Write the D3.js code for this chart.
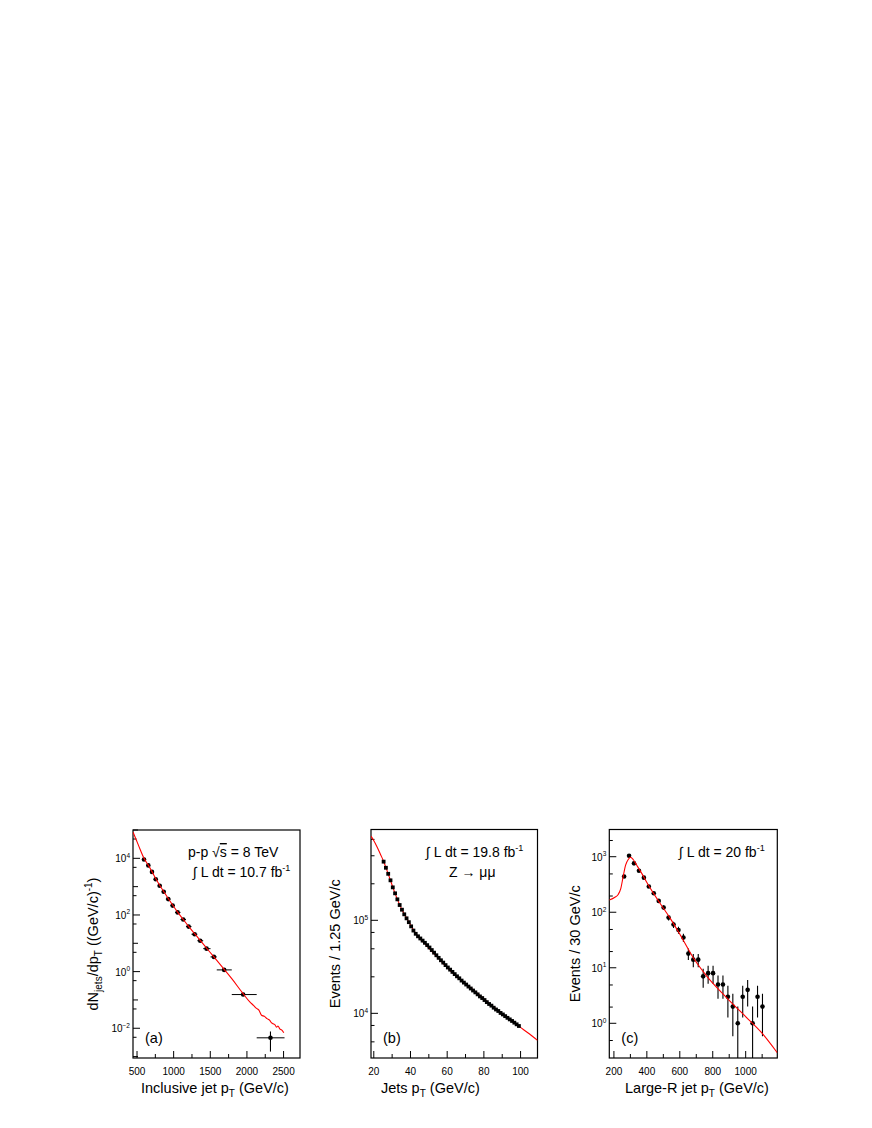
<!DOCTYPE html>
<html>
<head>
<meta charset="utf-8">
<script src="https://cdn.jsdelivr.net/npm/d3@7"></script>
<style>
body { margin: 0; background: #fff; }
svg { font-family: "Liberation Sans", Arial, Helvetica, sans-serif; }
</style>
</head>
<body>
<script>
"use strict";

/*
 * Three jet spectra: (a) inclusive jets, (b) jets in Z->mumu, (c) large-R jets.
 */

// (a) inclusive jet pT, GeV/c
const jetPt = [602, 661, 711, 762, 816, 871, 933, 993, 1061, 1138, 1211, 1293, 1369, 1456, 1556, 1696, 1955, 2328];
const jetEdges = [575, 630, 685, 735, 790, 845, 900, 965, 1025, 1100, 1175, 1250, 1330, 1410, 1510, 1595, 1800, 2140, 2520];
const jetRate = [9120, 5620, 3310, 1820, 1070, 661, 363, 214, 123, 69.2, 38.9, 20.9, 12.3, 6.46, 3.31, 1.15, 0.155, 0.0046];
const jetRateErr = [0, 0, 0, 0, 0, 0, 0, 0, 0, 0, 0, 0, 0, 0, 0, 0.08, 0.02, 0.0031];
const jetCurvePt = [452, 500, 550, 602, 661, 711, 762, 816, 871, 933, 993, 1061, 1138, 1211, 1293, 1369, 1456, 1556, 1696, 1800, 1955, 2046, 2100, 2138, 2170, 2206, 2247, 2280, 2319, 2340, 2364, 2390, 2410, 2430, 2455, 2480, 2510];
const jetCurveRate = [85100, 42700, 20400, 10000, 5750, 3390, 1950, 1120, 676, 380, 224, 126, 69.2, 39.8, 21.9, 12.6, 6.76, 3.31, 1.20, 0.562, 0.166, 0.0851, 0.0631, 0.0501, 0.0437, 0.0288, 0.0263, 0.0219, 0.0191, 0.0158, 0.0145, 0.0132, 0.0110, 0.0120, 0.00955, 0.00871, 0.00692];

// (b) jets in Z -> mumu events, 1.25 GeV/c bins starting at 25 GeV/c
const zBinStart = 25;
const zBinWidth = 1.25;
const zEvents = [427000, 367000, 316000, 269000, 226000, 195000, 168000, 146000, 130000, 116000,
                 105000, 95500, 86100, 77600, 71600, 67300, 63800, 60500, 57300, 54100,
                 51000, 47900, 44900, 42100, 39500, 37200, 35100, 33000, 31100, 29500,
                 27900, 26400, 25000, 23800, 22500, 21400, 20400, 19400, 18500, 17600,
                 16800, 16000, 15200, 14600, 13900, 13200, 12600, 12100, 11500, 11000,
                 10600, 10100, 9730, 9330, 8950, 8610, 8280, 7940, 7620, 7310];
const zCurvePt = [18.75, 20, 22, 24, 25.6, 28, 30, 32, 34, 36, 38, 40, 42, 44, 48, 52, 56, 60, 65, 70, 75, 80, 85, 90, 95, 100, 105, 109.5];
const zCurveEvents = [803000, 733000, 617000, 507000, 432000, 320000, 247000, 191000, 153000, 126000, 107000, 91200, 78200, 68400, 56000, 46100, 38200, 31300, 25200, 21000, 17500, 14500, 12000, 9950, 8410, 7110, 6030, 5130];

// (c) large-R jet pT, 30 GeV/c bins
const largeRPt = [265, 295, 325, 355, 385, 415, 445, 475, 505, 535, 565, 595, 625, 655, 685, 715, 745, 775, 805, 835, 865, 895, 925, 955, 985, 1015, 1045, 1075, 1105];
const largeREvents = [440, 1040, 760, 560, 420, 290, 220, 160, 122, 80, 60, 48, 35, 18, 14, 14, 7, 8, 8, 5, 5, 3, 2, 1, 3, 4, 1, 3, 2];
const largeRCurvePt = [175, 209, 229, 245, 259, 274, 290, 304, 320, 341, 372, 412, 483, 545, 606, 687, 769, 891, 1013, 1094, 1195];
const largeRCurveEvents = [166, 186, 209, 269, 437, 708, 891, 977, 891, 708, 501, 309, 145, 77.6, 38.9, 14.8, 6.92, 2.82, 1.23, 0.708, 0.295];

const svg = d3.select("body").append("svg")
    .attr("width", 872)
    .attr("height", 1128);

function superscript(text, base, exp, size) {
  text.append("tspan").text(base);
  text.append("tspan")
    .attr("dy", -size * 0.45)
    .attr("font-size", size * 0.65)
    .text(exp);
}

function drawPanel(p) {
  let g = svg.append("g");
  let x = d3.scaleLinear().domain(p.xDomain).range([p.left, p.right]);
  let y = d3.scaleLog().domain(p.yDomain).range([p.bottom, p.top]);

  let clipId = "clip" + p.name;
  g.append("clipPath").attr("id", clipId)
    .append("rect")
    .attr("x", p.left).attr("y", p.top)
    .attr("width", p.right - p.left).attr("height", p.bottom - p.top);

  // x ticks, pointing inside the frame
  let xAxis = d3.axisBottom(x).tickValues(p.xMajor).tickSize(-7).tickPadding(10)
      .tickFormat(d3.format("d"));
  let xg = g.append("g").attr("transform", `translate(0,${p.bottom})`).call(xAxis);
  xg.select(".domain").remove();
  xg.selectAll("text").attr("font-size", 10).attr("font-family", null).attr("fill", "#000");
  g.append("g").attr("transform", `translate(0,${p.bottom})`)
    .call(d3.axisBottom(x).tickValues(p.xMinor).tickSize(-4).tickFormat(""))
    .select(".domain").remove();

  // y ticks
  let yMinor = [];
  for (let e = p.decades[0] - 1; e <= p.decades[1] + 1; e++) {
    for (let m of p.yMinorMantissa) {
      let v = m * Math.pow(10, e);
      if (v >= p.yDomain[0] && v <= p.yDomain[1]) yMinor.push(v);
    }
  }
  g.append("g").attr("transform", `translate(${p.left},0)`)
    .call(d3.axisLeft(y).tickValues(yMinor).tickSize(-3.5).tickFormat(""))
    .select(".domain").remove();
  let yMajor = [];
  for (let e = p.decades[0]; e <= p.decades[1]; e++) {
    let v = Math.pow(10, e);
    if (v >= p.yDomain[0] && v <= p.yDomain[1]) yMajor.push(e);
  }
  let yg = g.append("g");
  for (let e of yMajor) {
    let labelled = p.labelEvery === 1 || e % 2 === 0;
    let py = y(Math.pow(10, e));
    yg.append("line")
      .attr("x1", p.left).attr("x2", p.left + (labelled ? 7 : 5))
      .attr("y1", py).attr("y2", py)
      .attr("stroke", "#000");
    if (labelled) {
      let t = yg.append("text")
        .attr("x", p.left - 3)
        .attr("y", py + 4)
        .attr("text-anchor", "end")
        .attr("font-size", 10);
      superscript(t, "10", String(e).replace("-", "\u2212"), 10);
    }
  }
  g.selectAll(".tick line").attr("stroke", "#000");

  // frame
  g.append("rect")
    .attr("x", p.left).attr("y", p.top)
    .attr("width", p.right - p.left).attr("height", p.bottom - p.top)
    .attr("fill", "none")
    .attr("stroke", "#000")
    .attr("stroke-width", 1.2);

  let plot = g.append("g").attr("clip-path", `url(#${clipId})`);

  let line = d3.line()
      .x(d => x(d[0]))
      .y(d => y(d[1]))
      .curve(p.curveType);
  function drawCurve() {
    plot.append("path")
      .datum(d3.zip(p.curveX, p.curveY))
      .attr("d", line)
      .attr("fill", "none")
      .attr("stroke", "#ff0000")
      .attr("stroke-width", 1.1);
  }
  if (!p.curveOnTop) drawCurve();

  // error bars
  for (let d of p.points) {
    if (d.xlo !== undefined) {
      plot.append("line")
        .attr("x1", x(d.xlo)).attr("x2", x(d.xhi))
        .attr("y1", y(d.y)).attr("y2", y(d.y))
        .attr("stroke", "#000").attr("stroke-width", 1);
    }
    if (d.err > 0) {
      let lo = d.y - d.err;
      let ylo = lo > p.yDomain[0] ? y(lo) : p.bottom + 2;
      plot.append("line")
        .attr("x1", x(d.x)).attr("x2", x(d.x))
        .attr("y1", y(d.y + d.err)).attr("y2", ylo)
        .attr("stroke", "#000").attr("stroke-width", 1.1);
    }
  }

  // markers
  if (p.marker === "square") {
    plot.selectAll("rect.pt").data(p.points).enter().append("rect")
      .attr("class", "pt")
      .attr("x", d => x(d.x) - 1.9).attr("y", d => y(d.y) - 1.9)
      .attr("width", 3.8).attr("height", 3.8)
      .attr("fill", "#000");
  } else {
    plot.selectAll("circle.pt").data(p.points).enter().append("circle")
      .attr("class", "pt")
      .attr("cx", d => x(d.x)).attr("cy", d => y(d.y))
      .attr("r", 2.3)
      .attr("fill", "#000");
  }

  if (p.curveOnTop) drawCurve();

  // titles
  let xt = g.append("text")
    .attr("x", p.xTitleX).attr("y", p.bottom + 35)
    .attr("font-size", 14.5);
  for (let part of p.xTitle) {
    let s = xt.append("tspan").text(part.t);
    if (part.sub) s.attr("font-size", 10).attr("dy", 4);
    if (part.back) s.attr("dy", -4);
  }
  let yt = g.append("text")
    .attr("transform", `translate(${p.yTitleX},${(p.top + p.bottom) / 2}) rotate(-90)`)
    .attr("text-anchor", "middle")
    .attr("font-size", 14.5);
  for (let part of p.yTitle) {
    let s = yt.append("tspan").text(part.t);
    if (part.dy) s.attr("dy", part.dy);
    if (part.size) s.attr("font-size", part.size);
  }

  // panel letter
  g.append("text")
    .attr("x", p.left + 12).attr("y", p.bottom - 15)
    .attr("font-size", 14.5)
    .text(p.letter);

  return {g: g, x: x, y: y};
}

// ---- panel (a)
let aPoints = jetPt.map((v, i) => ({x: v, y: jetRate[i], xlo: jetEdges[i], xhi: jetEdges[i + 1], err: jetRateErr[i]}));
let a = drawPanel({
  name: "a", left: 133, right: 300, top: 830, bottom: 1058,
  xDomain: [452, 2731], yDomain: [Math.pow(10, -3.05), Math.pow(10, 5.0)],
  xMajor: [500, 1000, 1500, 2000, 2500], xMinor: [750, 1250, 1750, 2250],
  decades: [-3, 5], labelEvery: 2, yMinorMantissa: [5],
  points: aPoints, curveX: jetCurvePt, curveY: jetCurveRate, curveType: d3.curveMonotoneX,
  curveOnTop: true, marker: "circle", letter: "(a)",
  xTitleX: 141, xTitle: [{t: "Inclusive jet p"}, {t: "T", sub: true}, {t: " (GeV/c)", back: true}],
  yTitleX: 98,
  yTitle: [{t: "dN"}, {t: "jets", dy: 4, size: 10}, {t: "/dp", dy: -4}, {t: "T", dy: 4, size: 10},
           {t: " ((GeV/c)", dy: -4}, {t: "-1", dy: -6, size: 10}, {t: ")", dy: 6}]
});
let at = a.g.append("text").attr("x", 188).attr("y", 857).attr("font-size", 14);
at.append("tspan").text("p-p \u221A");
at.append("tspan").text("s").style("text-decoration", "overline");
at.append("tspan").text(" = 8 TeV");
let at2 = a.g.append("text").attr("x", 193).attr("y", 877).attr("font-size", 14);
superscript(at2, "\u222B L dt = 10.7 fb", "-1", 14);

// ---- panel (b)
let bPoints = zEvents.map((v, i) => ({x: zBinStart + zBinWidth * (i + 0.5), y: v, err: 0}));
let b = drawPanel({
  name: "b", left: 371, right: 537.5, top: 829.5, bottom: 1058,
  xDomain: [18.75, 109.5], yDomain: [Math.pow(10, 3.52), Math.pow(10, 5.976)],
  xMajor: [20, 40, 60, 80, 100], xMinor: [30, 50, 70, 90],
  decades: [3, 5], labelEvery: 1, yMinorMantissa: [2.5, 5, 7.5],
  points: bPoints, curveX: zCurvePt, curveY: zCurveEvents, curveType: d3.curveMonotoneX,
  curveOnTop: false, marker: "square", letter: "(b)",
  xTitleX: 381, xTitle: [{t: "Jets p"}, {t: "T", sub: true}, {t: " (GeV/c)", back: true}],
  yTitleX: 340,
  yTitle: [{t: "Events / 1.25 GeV/c"}]
});
let bt = b.g.append("text").attr("x", 426).attr("y", 857).attr("font-size", 14);
superscript(bt, "\u222B L dt = 19.8 fb", "-1", 14);
b.g.append("text").attr("x", 449).attr("y", 877).attr("font-size", 14)
  .text("Z \u2192  \u03BC\u03BC");

// ---- panel (c)
let cPoints = largeRPt.map((v, i) => ({x: v, y: largeREvents[i], err: Math.sqrt(largeREvents[i])}));
let c = drawPanel({
  name: "c", left: 609.3, right: 777.3, top: 829.5, bottom: 1058,
  xDomain: [175, 1195], yDomain: [Math.pow(10, -0.625), Math.pow(10, 3.49)],
  xMajor: [200, 400, 600, 800, 1000], xMinor: [300, 500, 700, 900, 1100],
  decades: [-1, 3], labelEvery: 1, yMinorMantissa: [2, 5],
  points: cPoints, curveX: largeRCurvePt, curveY: largeRCurveEvents, curveType: d3.curveMonotoneX,
  curveOnTop: true, marker: "circle", letter: "(c)",
  xTitleX: 625, xTitle: [{t: "Large-R jet p"}, {t: "T", sub: true}, {t: " (GeV/c)", back: true}],
  yTitleX: 580,
  yTitle: [{t: "Events / 30 GeV/c"}]
});
let ct = c.g.append("text").attr("x", 679).attr("y", 857).attr("font-size", 14);
superscript(ct, "\u222B L dt = 20 fb", "-1", 14);
</script>
</body>
</html>
